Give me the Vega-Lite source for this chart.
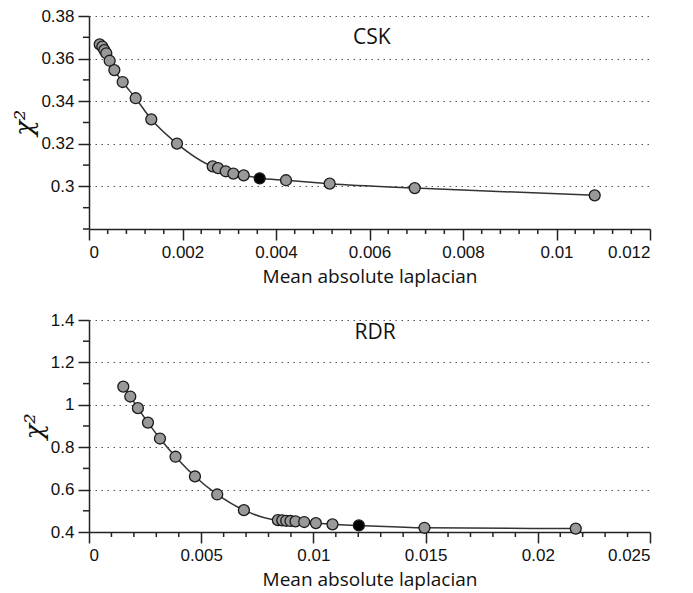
{
  "$schema": "https://vega.github.io/schema/vega-lite/v6.json",
  "background": "white",
  "padding": {"left": 11, "top": 7, "right": 3, "bottom": 5},
  "datasets": {
    "csk": [
      {"x": 0.000229, "y": 0.3667, "sel": false},
      {"x": 0.000285, "y": 0.3656, "sel": false},
      {"x": 0.000328, "y": 0.3640, "sel": false},
      {"x": 0.000370, "y": 0.3625, "sel": false},
      {"x": 0.000442, "y": 0.3590, "sel": false},
      {"x": 0.000542, "y": 0.3546, "sel": false},
      {"x": 0.000720, "y": 0.3490, "sel": false},
      {"x": 0.000998, "y": 0.3414, "sel": false},
      {"x": 0.001333, "y": 0.3315, "sel": false},
      {"x": 0.001882, "y": 0.3201, "sel": false},
      {"x": 0.002646, "y": 0.3094, "sel": false},
      {"x": 0.002760, "y": 0.3086, "sel": false},
      {"x": 0.002924, "y": 0.3071, "sel": false},
      {"x": 0.003088, "y": 0.3060, "sel": false},
      {"x": 0.003309, "y": 0.3052, "sel": false},
      {"x": 0.003651, "y": 0.3038, "sel": true},
      {"x": 0.004214, "y": 0.3029, "sel": false},
      {"x": 0.005148, "y": 0.3013, "sel": false},
      {"x": 0.006967, "y": 0.2992, "sel": false},
      {"x": 0.010817, "y": 0.2958, "sel": false}
    ],
    "rdr": [
      {"x": 0.001528, "y": 1.086, "sel": false},
      {"x": 0.001840, "y": 1.039, "sel": false},
      {"x": 0.002180, "y": 0.984, "sel": false},
      {"x": 0.002628, "y": 0.916, "sel": false},
      {"x": 0.003162, "y": 0.841, "sel": false},
      {"x": 0.003857, "y": 0.755, "sel": false},
      {"x": 0.004721, "y": 0.662, "sel": false},
      {"x": 0.005714, "y": 0.577, "sel": false},
      {"x": 0.006903, "y": 0.503, "sel": false},
      {"x": 0.008418, "y": 0.456, "sel": false},
      {"x": 0.008610, "y": 0.455, "sel": false},
      {"x": 0.008788, "y": 0.453, "sel": false},
      {"x": 0.008979, "y": 0.452, "sel": false},
      {"x": 0.009202, "y": 0.450, "sel": false},
      {"x": 0.009590, "y": 0.447, "sel": false},
      {"x": 0.010110, "y": 0.442, "sel": false},
      {"x": 0.010850, "y": 0.436, "sel": false},
      {"x": 0.012026, "y": 0.431, "sel": true},
      {"x": 0.014948, "y": 0.420, "sel": false},
      {"x": 0.021691, "y": 0.416, "sel": false}
    ],
    "lab1": [{"name": "CSK", "x": 0.00605, "y": 0.3697}],
    "lab2": [{"name": "RDR", "x": 0.01275, "y": 1.339}],
    "minx1": [{"v":0.0004},{"v":0.0008},{"v":0.0012},{"v":0.0016},{"v":0.0024},{"v":0.0028},{"v":0.0032},{"v":0.0036},{"v":0.0044},{"v":0.0048},{"v":0.0052},{"v":0.0056},{"v":0.0064},{"v":0.0068},{"v":0.0072},{"v":0.0076},{"v":0.0084},{"v":0.0088},{"v":0.0092},{"v":0.0096},{"v":0.0104},{"v":0.0108},{"v":0.0112},{"v":0.0116}],
    "miny1": [{"v":0.28},{"v":0.29},{"v":0.31},{"v":0.33},{"v":0.35},{"v":0.37}],
    "minx2": [{"v":0.001},{"v":0.002},{"v":0.003},{"v":0.004},{"v":0.006},{"v":0.007},{"v":0.008},{"v":0.009},{"v":0.011},{"v":0.012},{"v":0.013},{"v":0.014},{"v":0.016},{"v":0.017},{"v":0.018},{"v":0.019},{"v":0.021},{"v":0.022},{"v":0.023},{"v":0.024}],
    "miny2": [{"v":0.5},{"v":0.7},{"v":0.9},{"v":1.1},{"v":1.3}]
  },
  "config": {
    "view": {"stroke": null},
    "axis": {
      "domainColor": "#222",
      "domainWidth": 1.5,
      "tickColor": "#222",
      "tickWidth": 1.5,
      "tickSize": 11,
      "labelFont": "Liberation Sans",
      "labelFontSize": 17,
      "labelColor": "#111",
      "labelOverlap": false,
      "titleFont": "Open Sans",
      "titleFontSize": 19,
      "titleFontWeight": "normal",
      "titleColor": "#111",
      "gridColor": "#555",
      "gridDash": [1.5, 4.5],
      "gridWidth": 1.2
    }
  },
  "vconcat": [
    {
      "width": 561,
      "height": 213,
      "layer": [
        {
          "data": {"name": "csk"},
          "mark": {"type": "line", "color": "#333", "strokeWidth": 1.5, "interpolate": "monotone"},
          "encoding": {
            "x": {"field": "x", "type": "quantitative",
              "scale": {"domain": [0, 0.012], "nice": false},
              "axis": {
                "title": "Mean absolute laplacian",
                "values": [0, 0.002, 0.004, 0.006, 0.008, 0.01, 0.012],
                "format": "~g",
                "labelPadding": 4,
                "titlePadding": 7,
                "grid": false
              }
            },
            "y": {"field": "y", "type": "quantitative",
              "scale": {"domain": [0.28, 0.38], "nice": false, "zero": false},
              "axis": {
                "title": "χ²",
                "titleFont": "DejaVu Serif",
                "titleFontStyle": "italic",
                "titleFontSize": 26,
                "values": [0.3, 0.32, 0.34, 0.36, 0.38],
                "format": "~g",
                "grid": true,
                "labelPadding": 4,
                "titlePadding": 3
              }
            }
          }
        },
        {
          "data": {"name": "minx1"},
          "mark": {"type": "rule", "color": "#222", "strokeWidth": 1.5, "y2Offset": 5},
          "encoding": {
            "x": {"field": "v", "type": "quantitative", "title": "Mean absolute laplacian"},
            "y": {"datum": 0.28, "type": "quantitative"},
            "y2": {"datum": 0.28}
          }
        },
        {
          "data": {"name": "miny1"},
          "mark": {"type": "rule", "color": "#222", "strokeWidth": 1.5, "x2Offset": -6},
          "encoding": {
            "y": {"field": "v", "type": "quantitative", "title": "χ²"},
            "x": {"datum": 0, "type": "quantitative"},
            "x2": {"datum": 0}
          }
        },
        {
          "data": {"name": "csk"},
          "mark": {"type": "point", "shape": "circle", "filled": true, "size": 120, "stroke": "#1a1a1a", "strokeWidth": 1.3, "opacity": 1},
          "encoding": {
            "x": {"field": "x", "type": "quantitative"},
            "y": {"field": "y", "type": "quantitative"},
            "fill": {"condition": {"test": "datum.sel", "value": "#000000"}, "value": "#999999"}
          }
        },
        {
          "data": {"name": "lab1"},
          "mark": {"type": "text", "font": "Open Sans", "fontSize": 21, "color": "#111"},
          "encoding": {
            "x": {"field": "x", "type": "quantitative"},
            "y": {"field": "y", "type": "quantitative"},
            "text": {"field": "name"}
          }
        }
      ]
    },
    {
      "width": 561,
      "height": 212,
      "layer": [
        {
          "data": {"name": "rdr"},
          "mark": {"type": "line", "color": "#333", "strokeWidth": 1.5, "interpolate": "monotone"},
          "encoding": {
            "x": {"field": "x", "type": "quantitative",
              "scale": {"domain": [0, 0.025], "nice": false},
              "axis": {
                "title": "Mean absolute laplacian",
                "values": [0, 0.005, 0.01, 0.015, 0.02, 0.025],
                "format": "~g",
                "labelPadding": 4,
                "titlePadding": 7,
                "grid": false
              }
            },
            "y": {"field": "y", "type": "quantitative",
              "scale": {"domain": [0.4, 1.4], "nice": false, "zero": false},
              "axis": {
                "title": "χ²",
                "titleFont": "DejaVu Serif",
                "titleFontStyle": "italic",
                "titleFontSize": 26,
                "values": [0.4, 0.6, 0.8, 1, 1.2, 1.4],
                "format": "~g",
                "grid": true,
                "labelPadding": 4,
                "titlePadding": 3
              }
            }
          }
        },
        {
          "data": {"name": "minx2"},
          "mark": {"type": "rule", "color": "#222", "strokeWidth": 1.5, "y2Offset": 5},
          "encoding": {
            "x": {"field": "v", "type": "quantitative", "title": "Mean absolute laplacian"},
            "y": {"datum": 0.4, "type": "quantitative"},
            "y2": {"datum": 0.4}
          }
        },
        {
          "data": {"name": "miny2"},
          "mark": {"type": "rule", "color": "#222", "strokeWidth": 1.5, "x2Offset": -6},
          "encoding": {
            "y": {"field": "v", "type": "quantitative", "title": "χ²"},
            "x": {"datum": 0, "type": "quantitative"},
            "x2": {"datum": 0}
          }
        },
        {
          "data": {"name": "rdr"},
          "mark": {"type": "point", "shape": "circle", "filled": true, "size": 120, "stroke": "#1a1a1a", "strokeWidth": 1.3, "opacity": 1},
          "encoding": {
            "x": {"field": "x", "type": "quantitative"},
            "y": {"field": "y", "type": "quantitative"},
            "fill": {"condition": {"test": "datum.sel", "value": "#000000"}, "value": "#999999"}
          }
        },
        {
          "data": {"name": "lab2"},
          "mark": {"type": "text", "font": "Open Sans", "fontSize": 21, "color": "#111"},
          "encoding": {
            "x": {"field": "x", "type": "quantitative"},
            "y": {"field": "y", "type": "quantitative"},
            "text": {"field": "name"}
          }
        }
      ]
    }
  ],
  "spacing": 25
}
